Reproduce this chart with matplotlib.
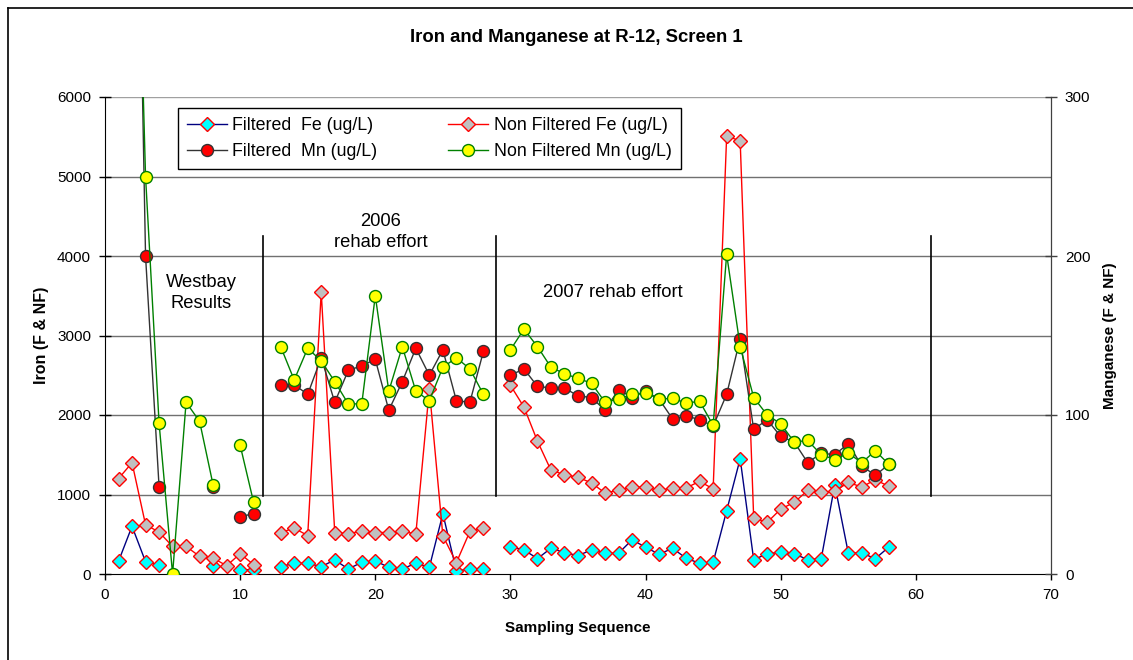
import numpy as np
import matplotlib
matplotlib.use("Agg")
import matplotlib.pyplot as plt
from matplotlib.lines import Line2D

nan = np.nan
seq = list(range(1, 59))

filtered_fe = [160, 600, 155, 115, nan, nan, nan, 96, nan, 54, 54, nan,
               93, 135, 135, 93, 177, 63, 147, 164, 84, 63, 135, 84, 758, 42, 59, 63, nan,
               345, 303, 194, 324, 269, 232, 303, 261, 261, 430, 337, 248, 324, 198, 135, 147,
               796, 1450, 180, 255, 272, 255, 180, 193, 1123, 264, 264, 193, 339]
nonfiltered_fe = [1200, 1400, 620, 527, 347, 347, 222, 200, 104, 255, 117, nan,
                  522, 577, 484, 3545, 522, 505, 543, 522, 522, 535, 505, 2324, 480, 143, 535, 577, nan,
                  2374, 2100, 1671, 1305, 1250, 1217, 1145, 1019, 1053, 1095, 1090, 1053, 1082, 1082, 1166, 1070,
                  5510, 5447, 704, 649, 817, 901, 1052, 1027, 1039, 1152, 1094, 1186, 1102]
filtered_mn = [nan, 650, 200, 55, nan, nan, nan, 55, nan, 36, 38, nan,
               119, 119, 113, 136, 108, 128, 131, 135, 103, 121, 142, 125, 141, 109, 108, 140, nan,
               125, 129, 118, 117, 117, 112, 111, 103, 116, 111, 115, 110, 97.5, 99.5, 97, 93,
               113, 148, 91, 97, 86.5, 83, 70, 76, 75, 82, 68, 62, 69]
nonfiltered_mn = [nan, 555, 250, 95, 0, 108, 96, 56, nan, 81, 45, nan,
                  143, 122, 142, 134, 121, 107, 107, 175, 115, 143, 115, 109, 130, 136, 129, 113, nan,
                  141, 154, 143, 130, 126, 123, 120, 108, 110, 113, 114, 110, 110.5, 107.5, 108.6, 93.5,
                  201, 143, 111, 100, 94.5, 83, 84, 75, 72, 76, 70, 77.5, 69]

x_ticks = [0, 10, 20, 30, 40, 50, 60, 70]
fe_ticks = [0, 1000, 2000, 3000, 4000, 5000, 6000]
mn_ticks = [0, 100, 200, 300]
divider_x = [11.7, 28.9, 61.1]
divider_y = [975, 4250]

plt.rcParams['font.family'] = ['Liberation Sans', 'DejaVu Sans']

W, H = 1133, 660
fig = plt.figure(figsize=(W / 100, H / 100), dpi=100)
fig.patch.set_facecolor('white')
L, R, T, B = 105, 1051, 97, 574
ax = fig.add_axes([L / W, 1 - B / H, (R - L) / W, (B - T) / H])
ax2 = ax.twinx()

ax.set_xlim(0, 70)
ax.set_ylim(0, 6000)
ax2.set_ylim(0, 300)
ax.set_xticks(x_ticks)
ax.set_yticks(fe_ticks)
ax2.set_yticks(mn_ticks)

for y in fe_ticks[1:]:
    ax.axhline(y, color='#707070' if y < 6000 else '#A0A0A0', lw=1.0, zorder=0)

ms_d = 6.8
ms_o = 8.6
h1, = ax.plot(seq, filtered_fe, color='#000080', lw=1.0, marker='D', ms=ms_d,
              mfc='#00FFFF', mec='#FF0000', mew=1.0, label='Filtered  Fe (ug/L)', zorder=3)
h2, = ax.plot(seq, nonfiltered_fe, color='#FF0000', lw=1.0, marker='D', ms=ms_d,
              mfc='#C0C0C0', mec='#FF0000', mew=1.0, label='Non Filtered Fe (ug/L)', zorder=4)
h3, = ax2.plot(seq, filtered_mn, color='#333333', lw=1.0, marker='o', ms=ms_o,
               mfc='#FF0000', mec='#333333', mew=1.0, label='Filtered  Mn (ug/L)', zorder=3)
h4, = ax2.plot(seq, nonfiltered_mn, color='#008000', lw=1.0, marker='o', ms=ms_o,
               mfc='#FFFF00', mec='#008000', mew=1.0, label='Non Filtered Mn (ug/L)', zorder=4)

for xv in divider_x:
    ax.plot([xv, xv], divider_y, color='black', lw=1.2, zorder=2)

ax.text(7.1, 3535, 'Westbay\nResults', ha='center', va='center', fontsize=13.2, linespacing=1.3)
ax.text(20.4, 4300, '2006\nrehab effort', ha='center', va='center', fontsize=13.2, linespacing=1.3)
ax.text(37.6, 3535, '2007 rehab effort', ha='center', va='center', fontsize=13.2)

for a in (ax, ax2):
    a.spines['top'].set_visible(False)
ax.spines['left'].set_color('black')
ax.spines['bottom'].set_color('black')
ax2.spines['right'].set_color('#404040')
ax2.spines['left'].set_visible(False)
ax2.spines['bottom'].set_visible(False)

ax.tick_params(axis='y', direction='inout', length=8, width=1, labelsize=11, pad=6)
ax.tick_params(axis='x', direction='out', length=4, width=1, labelsize=11, pad=6)
ax2.tick_params(axis='y', direction='inout', length=8, width=1, labelsize=11, pad=6, color='#404040')

ax.set_xlabel('Sampling Sequence', fontsize=11, fontweight='bold', labelpad=14)
ax.set_ylabel('Iron (F & NF)', fontsize=11.5, fontweight='bold', labelpad=6)
ax2.set_ylabel('Manganese (F & NF)', fontsize=11, fontweight='bold', labelpad=9)

fig.text(576 / W, 1 - 38 / H, 'Iron and Manganese at R-12, Screen 1', ha='center', va='center',
         fontsize=13.3, fontweight='bold')

leg = ax2.legend(handles=[h1, h3, h2, h4], ncol=2, loc='upper left',
                 bbox_to_anchor=((178 - L) / (R - L), (B - 108) / (B - T)),
                 fontsize=12.8, frameon=True, fancybox=False, edgecolor='black',
                 framealpha=1, numpoints=1, handlelength=2.25, handletextpad=0.3,
                 columnspacing=4.0, borderpad=0.5, labelspacing=0.5, borderaxespad=0)
leg.get_frame().set_linewidth(1.0)
leg.set_zorder(10)

fig.add_artist(Line2D([8 / W, 8 / W], [0, 1 - 8 / H], color='black', lw=1.2))
fig.add_artist(Line2D([8 / W, 1], [1 - 8 / H, 1 - 8 / H], color='black', lw=1.2))

fig.savefig('out.png', dpi=100)
